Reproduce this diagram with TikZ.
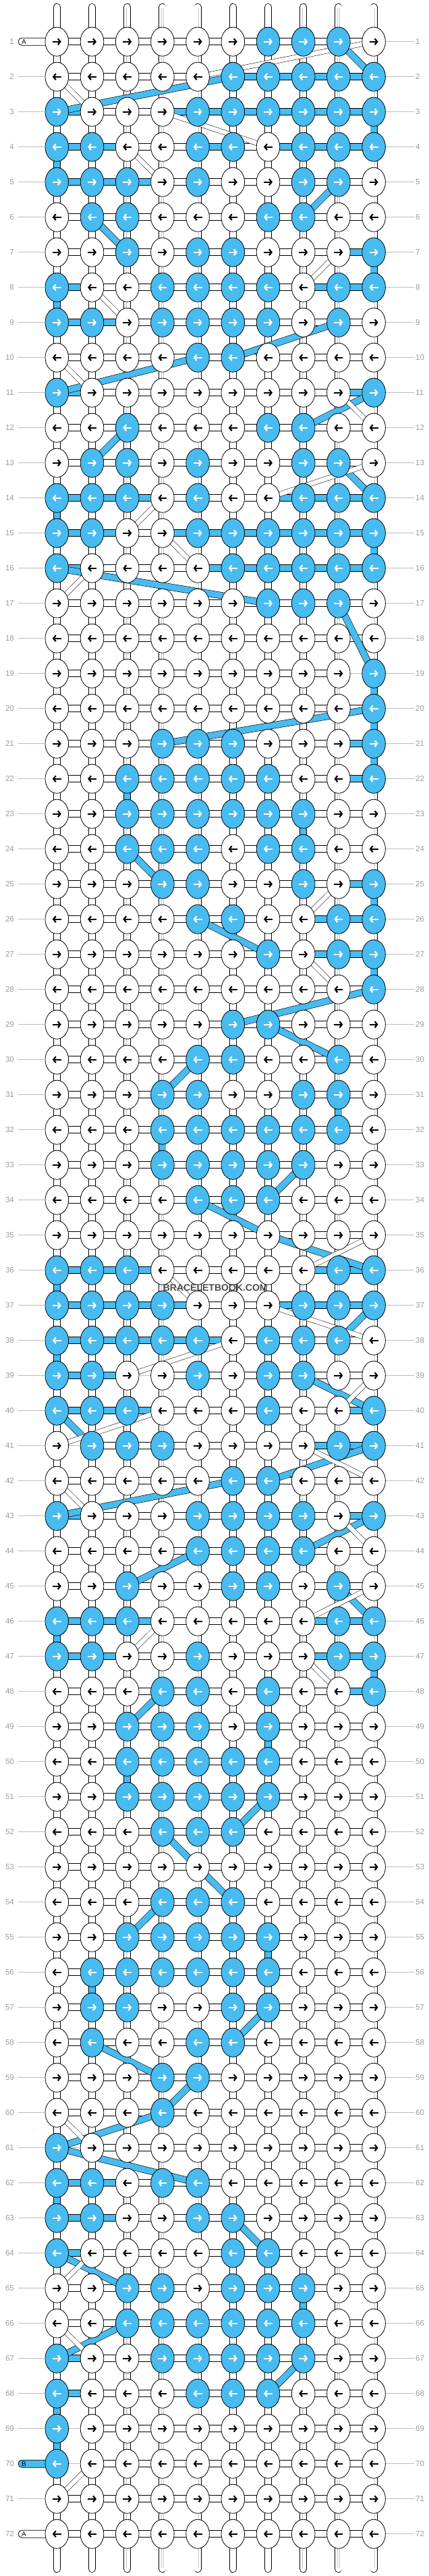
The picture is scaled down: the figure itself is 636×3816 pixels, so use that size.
\documentclass[tikz,border=0pt]{standalone}
\usepackage{fontspec}
\setmainfont{Liberation Sans}
\usepackage{xstring}
\usetikzlibrary{shapes.geometric,arrows.meta}
\definecolor{kblue}{HTML}{48BBF0}
\definecolor{lblgray}{HTML}{9A9A9A}
\definecolor{leadgray}{HTML}{BDBDBD}
\pgfdeclarelayer{conn}
\pgfdeclarelayer{diag}
\pgfsetlayers{conn,diag,main}
\tikzset{
  knot/.style={ellipse,draw,line width=0.8pt,minimum width=34.6pt,minimum height=43pt,inner sep=0pt},
  arr/.style={line width=2.2pt,-{Straight Barb[length=3.6pt,width=9pt]}},
  wthr/.style={line width=0.8pt,double=white,double distance=9.5pt},
  bthr/.style={line width=0.8pt,double=kblue,double distance=9.5pt},
  core/.style={line width=0.4pt,draw=gray!45,double=white,double distance=2.4pt},
  wdiag/.style={line width=0.5pt,double=white,double distance=6.5pt},
  bdiag/.style={line width=0.6pt,double=kblue,double distance=9pt},
  lead/.style={draw=leadgray,line width=0.8pt},
  lbl/.style={text=lblgray,font=\fontsize{11.5}{12}\selectfont,inner sep=0pt}
}
% row: knot colours / threads along the row / threads down to the next row
\newcommand\knotrow[4]{%
  \expandafter\def\csname rk#1\endcsname{#2}%
  \expandafter\def\csname rh#1\endcsname{#3}%
  \expandafter\def\csname rv#1\endcsname{#4}}
\knotrow{1}{wwwwwwbbbw}{wwwwwwwww}{wwwwwwwwww}
\knotrow{2}{wwwwwbbbbb}{wwwwwbbbb}{wwwwwwwwww}
\knotrow{3}{bwwwbbbbbb}{bwwbbbbbb}{wwwwwwwwwb}
\knotrow{4}{bbwwbbwbbb}{bbwwbwbbb}{bwwwwwwwww}
\knotrow{5}{bbbwbwwbbw}{bbbwwwwww}{wwwwwwwwww}
\knotrow{6}{wbbwwwbbww}{wwwwwwwww}{wwwwwwwwww}
\knotrow{7}{wwbwbbwwwb}{wwwwwwwwb}{wwwwwwwwwb}
\knotrow{8}{bwwbbbbwbb}{bwwwwwwbb}{bwwwwwwwww}
\knotrow{9}{bbwbbbbwbw}{bbwwwwwww}{wwwwwwwwww}
\knotrow{10}{wwwwbbwwww}{wwwwwwwww}{wwwwwwwwww}
\knotrow{11}{bwwwwwwwwb}{bwwwwwwwb}{wwwwwwwwww}
\knotrow{12}{wwbwwwbbww}{wwwwwwwww}{wwwwwwwwww}
\knotrow{13}{wbbwbwwbbw}{wwwwwwwww}{wwwwwwwwww}
\knotrow{14}{bbbwbwwbbb}{bbbwwwbbb}{bwwwwwwwww}
\knotrow{15}{bbwwbbbbbb}{bbwbbbbbb}{wwwwwwwwwb}
\knotrow{16}{bwwwwbbbbb}{bwwwbbbbb}{wwwwwwwwww}
\knotrow{17}{wwwwwwbbbw}{wwwwwwwww}{wwwwwwwwww}
\knotrow{18}{wwwwwwwwww}{wwwwwwwww}{wwwwwwwwww}
\knotrow{19}{wwwwwwwwwb}{wwwwwwwwn}{wwwwwwwwwb}
\knotrow{20}{wwwwwwwwwb}{wwwwwwwww}{wwwwwwwwwb}
\knotrow{21}{wwwbbbwwwb}{wwwwwwwwb}{wwwwwwwwwb}
\knotrow{22}{wwbbbbbwwb}{wwwwwwwwb}{wwbwwwwwww}
\knotrow{23}{wwbbbbbbww}{wwwwwwwww}{wwwwwwwbww}
\knotrow{24}{wwbbbwbbww}{wwwwwwwww}{wwwwwwwwww}
\knotrow{25}{wwwbbwwbwb}{wwwwwwwwb}{wwwwwwwwwb}
\knotrow{26}{wwwwbbwwbb}{wwwwwwwbb}{wwwwwwwwww}
\knotrow{27}{wwwwwwbwbb}{wwwwwwwbb}{wwwwwwwwwb}
\knotrow{28}{wwwwwwwwwb}{wwwwwwwww}{wwwwwwwwww}
\knotrow{29}{wwwwwbbwww}{wwwwwwwww}{wwwwwwwwww}
\knotrow{30}{wwwwbbwwbw}{wwwwwwwww}{wwwwwwwwww}
\knotrow{31}{wwwbbwwbbw}{wwwwwwwww}{wwwwwwwwbw}
\knotrow{32}{wwwbbbbbbw}{wwwwwwwww}{wwwbwwwwww}
\knotrow{33}{wwwbbbbbww}{wwwwwwwww}{wwwwwwwwww}
\knotrow{34}{wwwwbbbwww}{wwwwwwwww}{wwwwwwwwww}
\knotrow{35}{wwwwwwwwww}{wwwwwwwww}{wwwwwwwwww}
\knotrow{36}{bbbwwwwwbb}{bbbwwwwbb}{bwwwwwwwww}
\knotrow{37}{bbbbwwwbbb}{bbbbwwbbb}{wwwwwwwwww}
\knotrow{38}{bbbbbwbbbw}{bbbbbwwww}{bwwwwwwwww}
\knotrow{39}{bbwwbwbbww}{bbnwwwwww}{wwwwwwwwww}
\knotrow{40}{bbbwwwbwwb}{bbbwwwwwb}{wwwwwwwwww}
\knotrow{41}{wbbbwwwwbb}{nwwwwwwbb}{wwwwwwwwww}
\knotrow{42}{wwwwwbbwww}{wwwwwwwww}{wwwwwwwwww}
\knotrow{43}{bwwwbbbbwb}{bwwwwwwwb}{wwwwwwwwww}
\knotrow{44}{wwwwbbbbww}{wwwwwwwww}{wwwwwwwwww}
\knotrow{45}{wwbwwbbwbw}{wwwwwwwww}{wwwwwwwwww}
\knotrow{46}{bbbwwwwwbb}{bbbwwwwbb}{bwwwwwwwww}
\knotrow{47}{bbwwbwwwbb}{bbwwwwwbb}{wwwwwwwwwb}
\knotrow{48}{wwwbbwbwwb}{wwwwwwwwb}{wwwwwwwwww}
\knotrow{49}{wwbbbwbwww}{wwwwwwwww}{wwwwwwbwww}
\knotrow{50}{wwbbbbbwww}{wwwwwwwww}{wwbwwwwwww}
\knotrow{51}{wwbbbbbwww}{wwwwwwwww}{wwwwwwwwww}
\knotrow{52}{wwwbbbwwww}{wwwwwwwww}{wwwwwwwwww}
\knotrow{53}{wwwwwwwwww}{wwwwwwwww}{wwwwwwwwww}
\knotrow{54}{wwwbbbwwww}{wwwwwwwww}{wwwwwwwwww}
\knotrow{55}{wwbbbbbwww}{wwwwwwwww}{wwwwwwbwww}
\knotrow{56}{wbbbbbbwww}{wwwwwwwww}{wbwwwwwwww}
\knotrow{57}{wbbwwbbwww}{wwwwwwwww}{wwwwwwwwww}
\knotrow{58}{wbwwbbwwww}{wwwwwwwww}{wwwwwwwwww}
\knotrow{59}{wwwbbwwwww}{wwwwwwwww}{wwwwwwwwww}
\knotrow{60}{wwwbwwwwww}{wwwwwwwww}{wwwwwwwwww}
\knotrow{61}{bwwwwwwwww}{nwwwwwwww}{wwwwwwwwww}
\knotrow{62}{bbwbbwwwww}{bbwwwwwww}{bwwwwwwwww}
\knotrow{63}{bbwwbbwwww}{bbwwwwwww}{wwwwwwwwww}
\knotrow{64}{bwwwwbbwww}{bwwwwwwww}{wwwwwwwwww}
\knotrow{65}{wwbbwbbbww}{wwwwwwwww}{wwwwwwwbww}
\knotrow{66}{wwbbbbbbww}{wwwwwwwww}{wwwwwwwwww}
\knotrow{67}{bwwbbbbbww}{bwwwwwwww}{wwwwwwwwww}
\knotrow{68}{bwwwbbbwww}{bwwwwwwww}{bwwwwwwwww}
\knotrow{69}{bwwwwwwwww}{nwwwwwwww}{bwwwwwwwww}
\knotrow{70}{bwwwwwwwww}{nwwwwwwww}{wwwwwwwwww}
\knotrow{71}{wwwwwwwwww}{wwwwwwwww}{wwwwwwwwww}
\knotrow{72}{wwwwwwwwww}{wwwwwwwww}{wwwwwwwwww}

\begin{document}
\begin{tikzpicture}[x=1pt,y=-1pt]
\useasboundingbox (0,0) rectangle (636,3816);
% knots with arrows, row numbers
\foreach \r in {1,...,72} {
  \edef\rowk{\csname rk\r\endcsname}
  \pgfmathsetmacro\ry{61.7+52*(\r-1)}
  \foreach \c in {1,...,10} {
    \StrChar{\rowk}{\c}[\kc]
    \if b\kc \def\kf{kblue}\def\ac{white}\else \def\kf{white}\def\ac{black}\fi
    \node at ({84.3+52.2*(\c-1)},\ry) [knot,fill=\kf] (k\r-\c) {};
    \ifodd\r\relax
      \draw[arr,color=\ac] ([xshift=-6.5pt]k\r-\c.center) -- ([xshift=6.5pt]k\r-\c.center);
    \else
      \draw[arr,color=\ac] ([xshift=6.5pt]k\r-\c.center) -- ([xshift=-6.5pt]k\r-\c.center);
    \fi
  }
  \node at (21,\ry) [lbl,anchor=east] (ln\r) {\r};
  \node at (616,\ry) [lbl,anchor=west] (rn\r) {\r};
  \draw[lead,shorten >=2.5pt] (k\r-10) -- (rn\r);
  \ifnum\r=1\relax\else\ifnum\r=70\relax\else\ifnum\r=72\relax\else
    \draw[lead,shorten <=6pt] (ln\r) -- (k\r-1);
  \fi\fi\fi
}
% threads along the rows and down to the next row
\begin{pgfonlayer}{conn}
\foreach \r in {1,...,72} {
  \edef\rowh{\csname rh\r\endcsname}
  \edef\rowv{\csname rv\r\endcsname}
  \foreach \c in {1,...,9} {
    \pgfmathtruncatemacro\cn{\c+1}
    \StrChar{\rowh}{\c}[\hc]
    \if b\hc \draw[bthr] (k\r-\c.center) -- (k\r-\cn.center);
    \else\if n\hc \draw[lead] (k\r-\c) -- (k\r-\cn);
    \else \draw[wthr] (k\r-\c.center) -- (k\r-\cn.center);
    \fi\fi
  }
  \ifnum\r<72\relax
    \pgfmathtruncatemacro\rn{\r+1}
    \foreach \c in {1,...,10} {
      \StrChar{\rowv}{\c}[\vc]
      \if b\vc \draw[bthr] (k\r-\c.center) -- (k\rn-\c.center);
      \else
        \draw[wthr] (k\r-\c.center) -- (k\rn-\c.center);
        \draw[core] (k\r-\c) -- (k\rn-\c);
      \fi
    }
  \fi
}
% loose ends top and bottom
\foreach \c in {1,...,10} {
  \coordinate (top\c) at ({84.3+52.2*(\c-1)},10.5);
  \coordinate (bot\c) at ({84.3+52.2*(\c-1)},3805.5);
  \draw[wthr,line cap=round] (top\c) -- (k1-\c.center);
  \draw[core] ([yshift=-2pt]top\c) -- (k1-\c);
  \draw[wthr,line cap=round] (bot\c) -- (k72-\c.center);
  \draw[core] ([yshift=2pt]bot\c) -- (k72-\c);
}
\draw[line width=0.8pt,fill=white,rounded corners=5.5pt] (27,56.2) rectangle (76,67.2);
\draw[line width=0.8pt,fill=kblue,rounded corners=5.5pt] (27,3644.2) rectangle (76,3655.2);
\draw[line width=0.8pt,fill=white,rounded corners=5.5pt] (27,3748.2) rectangle (76,3759.2);
\end{pgfonlayer}
\node at (35.5,61.7) [font=\fontsize{10}{10}\selectfont,inner sep=0pt] (ta1) {A};
\node at (35.5,3649.7) [font=\fontsize{10}{10}\selectfont,inner sep=0pt] (tb) {B};
\node at (35.5,3753.7) [font=\fontsize{10}{10}\selectfont,inner sep=0pt] (ta2) {A};
% threads carried from one row to another
\begin{pgfonlayer}{diag}
\foreach \a/\b in {1-9/2-10,2-6/3-1,5-9/6-8,6-2/7-3,9-9/10-6,10-5/11-1,11-10/12-8,
  12-3/13-2,13-9/14-10,16-1/17-7,17-9/19-10,20-10/21-4,24-3/25-4,26-5/27-7,
  28-10/29-6,29-7/30-9,30-5/31-4,33-8/34-7,34-5/35-7,35-7/36-10,37-10/38-9,
  39-8/40-10,40-1/41-2,41-10/42-7,42-6/43-1,43-10/44-8,44-5/45-3,45-9/46-10,
  48-4/49-3,51-7/52-6,52-4/53-5,53-5/54-6,54-4/55-3,57-7/58-6,58-2/59-4,
  59-5/60-4,60-4/61-1,61-1/62-5,63-6/64-7,64-1/65-3,66-3/67-1,67-8/68-7}
  \draw[bdiag] (k\a.center) -- (k\b.center);
\foreach \a/\b in {1-10/2-5,2-1/3-2,3-4/4-7,4-3/5-4,7-9/8-8,8-2/9-3,10-1/11-2,
  11-9/12-10,13-10/14-7,14-4/15-3,15-4/16-5,16-2/17-1,25-9/26-8,27-8/28-9,
  35-10/36-8,36-4/37-5,37-7/38-10,38-6/39-3,39-10/40-9,40-4/41-1,41-8/42-10,
  42-1/43-2,43-9/44-10,45-10/46-8,46-4/47-3,47-8/48-9,60-1/61-2,64-2/65-1,
  66-1/67-2,70-2/71-1}
  \draw[wdiag] (k\a.center) -- (k\b.center);
\end{pgfonlayer}
\node at (319.2,1907.7) [font=\bfseries\fontsize{14}{14}\selectfont,text=black!70] (wm) {BRACELETBOOK.COM};
\end{tikzpicture}
\end{document}
